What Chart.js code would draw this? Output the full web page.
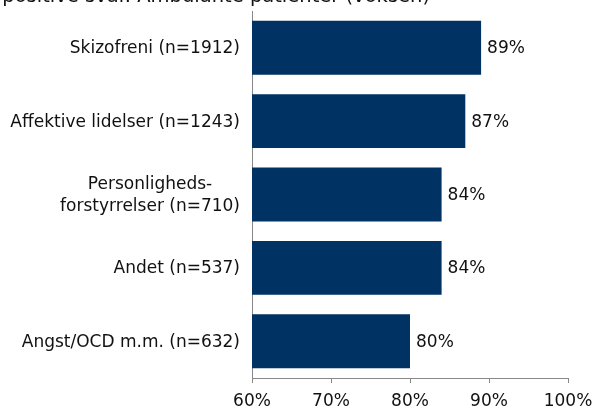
<!DOCTYPE html>
<html>
<head>
<meta charset="utf-8">
<script src="https://cdn.jsdelivr.net/npm/chart.js@4/dist/chart.umd.min.js"></script>
<style>
    html, body { margin: 0; padding: 0; background: #fff; }
    #wrap { width: 595px; height: 412px; position: relative; }
</style>
</head>
<body>
<div id="wrap"><canvas id="svarChart"></canvas></div>
<script>

// andel positive svar pr. diagnosegruppe
const groups = [
    "Skizofreni (n=1912)",
    "Affektive lidelser (n=1243)",
    ["Personligheds-", "forstyrrelser (n=710)"],
    "Andet (n=537)",
    "Angst/OCD m.m. (n=632)"
];
const shares = [89, 87, 84, 84, 80];
const xTicks = [60, 70, 80, 90, 100];

const titleText = "Andel positive svar. Ambulante patienter (voksen)";

const FONT = "'DejaVu Sans', Verdana, sans-serif";
const NAVY = "#003263";
const AXIS = "#888888";
const INK = "#111111";

// overskrift (kun nederste del er synlig)
const titlePlugin = {
    id: "topTitle",
    afterDraw(chart) {
        const c = chart.ctx;
        c.save();
        c.font = "19.5px " + FONT;
        c.fillStyle = INK;
        c.textAlign = "right";
        c.textBaseline = "alphabetic";
        c.fillText(titleText, 430, 1.5);
        c.restore();
    }
};

// kategorinavne, linjer centreret om hinanden og højrestillet mod aksen
const groupLabels = {
    id: "groupLabels",
    afterDraw(chart) {
        const c = chart.ctx;
        const y = chart.scales.y;
        const right = chart.chartArea.left - 12;
        c.save();
        c.font = "17px " + FONT;
        c.fillStyle = INK;
        c.textAlign = "center";
        c.textBaseline = "middle";
        groups.forEach((g, i) => {
            const lines = Array.isArray(g) ? g : [g];
            const w = Math.max(...lines.map(l => c.measureText(l).width));
            const cy = y.getPixelForValue(i) + 1;
            const lh = 22;
            lines.forEach((l, k) => {
                c.fillText(l, right - w / 2, cy + (k - (lines.length - 1) / 2) * lh);
            });
        });
        c.restore();
    }
};

// procent ved enden af hver søjle
const valueLabels = {
    id: "valueLabels",
    afterDatasetsDraw(chart) {
        const c = chart.ctx;
        const x = chart.scales.x;
        const y = chart.scales.y;
        c.save();
        c.font = "17px " + FONT;
        c.fillStyle = INK;
        c.textAlign = "left";
        c.textBaseline = "middle";
        shares.forEach((v, i) => {
            c.fillText(v + "%", x.getPixelForValue(v) + 6, y.getPixelForValue(i) + 1);
        });
        c.restore();
    }
};

new Chart(document.getElementById("svarChart"), {

    type: "bar",

    data: {
        labels: groups,
        datasets: [{
            data: shares,
            backgroundColor: NAVY,
            borderWidth: 0,
            barPercentage: 0.735,
            categoryPercentage: 1
        }]
    },

    options: {
        indexAxis: "y",
        responsive: true,
        maintainAspectRatio: false,
        animation: false,
        layout: {
            padding: { top: 11, right: 27, bottom: 0, left: 0 }
        },
        plugins: {
            legend: { display: false },
            tooltip: { enabled: false }
        },
        scales: {
            x: {
                min: xTicks[0],
                max: xTicks[xTicks.length - 1],
                afterBuildTicks: s => { s.ticks = xTicks.map(v => ({ value: v })); },
                afterFit: s => {
                    s.height = 34;
                    s.paddingLeft = 0;
                    s.paddingRight = 0;
                },
                grid: {
                    drawOnChartArea: false,
                    drawTicks: true,
                    tickLength: 5,
                    color: AXIS
                },
                border: { color: AXIS, width: 1 },
                ticks: {
                    callback: v => v + "%",
                    color: INK,
                    padding: 8,
                    maxRotation: 0,
                    font: { family: FONT, size: 17 }
                }
            },
            y: {
                afterFit: s => {
                    s.width = 252;
                    s.paddingTop = 0;
                    s.paddingBottom = 0;
                },
                grid: { display: false },
                border: { color: AXIS, width: 1 },
                ticks: { display: false }
            }
        }
    },

    plugins: [titlePlugin, groupLabels, valueLabels]

});

</script>
</body>
</html>
